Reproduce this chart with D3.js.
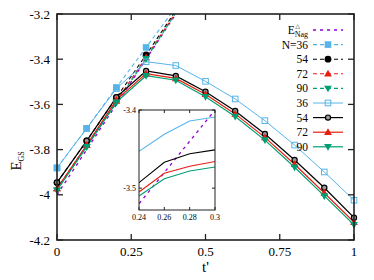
<!DOCTYPE html>
<html>
<head>
<meta charset="utf-8">
<script src="https://cdn.jsdelivr.net/npm/d3@7"></script>
<style>
  body { margin: 0; background: #fff; }
  svg text { font-family: "Liberation Serif", "DejaVu Serif", serif; fill: #000; }
</style>
</head>
<body>
<div id="chart"></div>
<script>
// t' values
var tDash = [0, 0.1, 0.2, 0.3, 0.4];
var tSolid = [0, 0.1, 0.2, 0.3, 0.4, 0.5, 0.6, 0.7, 0.8, 0.9, 1.0];
var tInset = [0.24, 0.26, 0.28, 0.30];

// E_Nag reference line
var eNag = [-4.0, -3.8, -3.6, -3.4, -3.2];

// dashed series (filled markers)
var dash36 = [-3.881, -3.706, -3.525, -3.348, -3.170];
var dash54 = [-3.946, -3.761, -3.570, -3.381, -3.185];
var dash72 = [-3.972, -3.780, -3.585, -3.392, -3.192];
var dash90 = [-3.980, -3.787, -3.592, -3.398, -3.195];

// solid series (open markers)
var solid36 = [-3.881, -3.706, -3.530, -3.411, -3.428, -3.498, -3.576, -3.672, -3.780, -3.899, -4.024];
var solid54 = [-3.946, -3.761, -3.568, -3.452, -3.474, -3.544, -3.629, -3.731, -3.846, -3.969, -4.101];
var solid72 = [-3.972, -3.780, -3.580, -3.464, -3.485, -3.555, -3.642, -3.746, -3.865, -3.992, -4.121];
var solid90 = [-3.980, -3.787, -3.590, -3.473, -3.493, -3.566, -3.654, -3.758, -3.878, -4.005, -4.133];

// inset series
var inset36 = [-3.453, -3.431, -3.414, -3.409];
var inset54 = [-3.493, -3.467, -3.456, -3.451];
var inset72 = [-3.505, -3.481, -3.472, -3.466];
var inset90 = [-3.510, -3.488, -3.478, -3.473];

// ticks
var xTicks = [0, 0.25, 0.5, 0.75, 1];
var xTickLabels = ["0", "0.25", "0.5", "0.75", "1"];
var yTicks = [-4.2, -4.0, -3.8, -3.6, -3.4, -3.2];
var yTickLabels = ["-4.2", "-4", "-3.8", "-3.6", "-3.4", "-3.2"];
var insetXTicks = [0.24, 0.26, 0.28, 0.30];
var insetXTickLabels = ["0.24", "0.26", "0.28", "0.3"];
var insetYTicks = [-3.5, -3.4];
var insetYTickLabels = ["-3.5", "-3.4"];

var legendLabels = ["N=36", "54", "72", "90", "36", "54", "72", "90"];

var purple = "#9400d3", blue = "#56b4e9", red = "#e51e10", green = "#009e73";

var width = 374, height = 280;
var margin = {left: 57, right: 20, top: 14, bottom: 40};

var svg = d3.select("#chart").append("svg")
    .attr("width", width)
    .attr("height", height);

var x = d3.scaleLinear().domain([0, 1]).range([margin.left, width - margin.right]);
var y = d3.scaleLinear().domain([-4.2, -3.2]).range([height - margin.bottom, margin.top]);

svg.append("clipPath").attr("id", "plotclip")
    .append("rect")
    .attr("x", x(0)).attr("y", y(-3.2))
    .attr("width", x(1) - x(0)).attr("height", y(-4.2) - y(-3.2));

// series definitions: values, t, colour, marker, dashed
var series = [
    {t: tDash, v: eNag, color: purple, marker: null, dash: "3,4", w: 1.3},
    {t: tDash, v: dash36, color: blue, marker: "square", dash: "4,3", w: 1.1},
    {t: tDash, v: dash54, color: "#000", marker: "circle", dash: "4,3", w: 1.1},
    {t: tDash, v: dash72, color: red, marker: "triangle", dash: "4,3", w: 1.1},
    {t: tDash, v: dash90, color: green, marker: "triangledown", dash: "4,3", w: 1.1},
    {t: tSolid, v: solid36, color: blue, marker: "opensquare", dash: null, w: 1.0},
    {t: tSolid, v: solid54, color: "#000", marker: "opencircle", dash: null, w: 1.2},
    {t: tSolid, v: solid72, color: red, marker: "triangle", dash: null, w: 1.2},
    {t: tSolid, v: solid90, color: green, marker: "triangledown", dash: null, w: 1.2}
];

// draw a marker at px, py
function marker(g, type, color, px, py) {
    switch(type) {
    case "square":
	g.append("rect").attr("x", px - 3.3).attr("y", py - 3.3)
	    .attr("width", 6.6).attr("height", 6.6).attr("fill", color);
	break;
    case "opensquare":
	g.append("rect").attr("x", px - 2.8).attr("y", py - 2.8)
	    .attr("width", 5.6).attr("height", 5.6)
	    .attr("fill", "none").attr("stroke", color).attr("stroke-width", 1);
	break;
    case "circle":
	g.append("circle").attr("cx", px).attr("cy", py).attr("r", 3.4).attr("fill", color);
	break;
    case "opencircle":
	g.append("circle").attr("cx", px).attr("cy", py).attr("r", 2.6)
	    .attr("fill", "#999").attr("stroke", color).attr("stroke-width", 1.2);
	break;
    case "triangle":
	g.append("path")
	    .attr("d", d3.symbol().type(d3.symbolTriangle).size(26)())
	    .attr("transform", "translate(" + px + "," + (py + 0.5) + ")")
	    .attr("fill", color);
	break;
    case "triangledown":
	g.append("path")
	    .attr("d", d3.symbol().type(d3.symbolTriangle).size(26)())
	    .attr("transform", "translate(" + px + "," + (py - 0.5) + ") rotate(180)")
	    .attr("fill", color);
	break;
    }
}

var plot = svg.append("g");
var lines = plot.append("g").attr("clip-path", "url(#plotclip)");
var marks = plot.append("g");

series.forEach(function(s) {
    var pts = s.t.map(function(t, i) { return [t, s.v[i]]; });
    var line = d3.line().x(function(d) { return x(d[0]); }).y(function(d) { return y(d[1]); });
    lines.append("path")
	.attr("d", line(pts))
	.attr("fill", "none")
	.attr("stroke", s.color)
	.attr("stroke-width", s.w)
	.attr("stroke-dasharray", s.dash);
    if(s.marker) {
	pts.forEach(function(p) {
	    if(p[1] <= -3.2 && p[1] >= -4.2)
		marker(marks, s.marker, s.color, x(p[0]), y(p[1]));
	});
    }
});

// frame and ticks (inward, mirrored)
var axes = svg.append("g");
axes.append("rect")
    .attr("x", x(0)).attr("y", y(-3.2))
    .attr("width", x(1) - x(0)).attr("height", y(-4.2) - y(-3.2))
    .attr("fill", "none").attr("stroke", "#222").attr("stroke-width", 1.6);

var tl = 6;
xTicks.forEach(function(t, i) {
    axes.append("line").attr("x1", x(t)).attr("x2", x(t))
	.attr("y1", y(-4.2)).attr("y2", y(-4.2) - tl).attr("stroke", "#222").attr("stroke-width", 1.3);
    axes.append("line").attr("x1", x(t)).attr("x2", x(t))
	.attr("y1", y(-3.2)).attr("y2", y(-3.2) + tl).attr("stroke", "#222").attr("stroke-width", 1.3);
    axes.append("text").attr("x", x(t)).attr("y", y(-4.2) + 16)
	.attr("text-anchor", "middle").attr("font-size", 13)
	.text(xTickLabels[i]);
});
yTicks.forEach(function(v, i) {
    axes.append("line").attr("x1", x(0)).attr("x2", x(0) + tl)
	.attr("y1", y(v)).attr("y2", y(v)).attr("stroke", "#222").attr("stroke-width", 1.3);
    axes.append("line").attr("x1", x(1)).attr("x2", x(1) - tl)
	.attr("y1", y(v)).attr("y2", y(v)).attr("stroke", "#222").attr("stroke-width", 1.3);
    axes.append("text").attr("x", x(0) - 7).attr("y", y(v) + 4.5)
	.attr("text-anchor", "end").attr("font-size", 13)
	.text(yTickLabels[i]);
});

// axis titles
var xt = svg.append("text").attr("x", x(0.5)).attr("y", 272)
    .attr("text-anchor", "middle").attr("font-size", 15);
xt.text("t'");

var yt = svg.append("text")
    .attr("transform", "translate(21," + y(-3.85) + ") rotate(-90)")
    .attr("text-anchor", "middle").attr("font-size", 15);
yt.append("tspan").text("E");
yt.append("tspan").attr("dy", 3).attr("font-size", 8).text("GS");

// legend
var legend = svg.append("g");
var lx = 308, ly0 = 30, dy = 14.6;
var eText = legend.append("text").attr("x", lx).attr("y", ly0 + 4)
    .attr("text-anchor", "end").attr("font-size", 11.5);
eText.append("tspan").text("E");
eText.append("tspan").attr("dy", 3).attr("font-size", 8).text("Nag");
var eW = eText.node().getSubStringLength(0, 1);
var bb = eText.node().getBBox();
legend.append("text").attr("x", bb.x + eW + 0.5).attr("y", ly0 - 2.5)
    .attr("font-size", 6).attr("font-family", "DejaVu Sans")
    .text("\u25B3");

series.forEach(function(s, i) {
    var ly = ly0 + i * dy;
    if(i > 0)
	legend.append("text").attr("x", lx).attr("y", ly + 4)
	    .attr("text-anchor", "end").attr("font-size", 11.5)
	    .text(legendLabels[i - 1]);
    legend.append("line").attr("x1", 313).attr("x2", 343)
	.attr("y1", ly).attr("y2", ly)
	.attr("stroke", s.color).attr("stroke-width", s.w)
	.attr("stroke-dasharray", s.dash);
    if(s.marker) marker(legend, s.marker, s.color, 328, ly);
});

// inset
var ix = d3.scaleLinear().domain([0.24, 0.30]).range([139, 215]);
var iy = d3.scaleLinear().domain([-3.528, -3.4]).range([210, 110]);
var inset = svg.append("g");
inset.append("rect").attr("x", 139).attr("y", 110)
    .attr("width", 76).attr("height", 100).attr("fill", "#fff");
svg.append("clipPath").attr("id", "insetclip")
    .append("rect").attr("x", 139).attr("y", 110).attr("width", 76).attr("height", 100);

var ig = inset.append("g").attr("clip-path", "url(#insetclip)");
var iline = d3.line().x(function(d) { return ix(d[0]); }).y(function(d) { return iy(d[1]); });
ig.append("path")
    .attr("d", iline(tDash.map(function(t, i) { return [t, eNag[i]]; })))
    .attr("fill", "none").attr("stroke", purple).attr("stroke-width", 1.3)
    .attr("stroke-dasharray", "3,4");
[[inset36, blue], [inset54, "#000"], [inset72, red], [inset90, green]].forEach(function(d) {
    ig.append("path")
	.attr("d", iline(tInset.map(function(t, i) { return [t, d[0][i]]; })))
	.attr("fill", "none").attr("stroke", d[1]).attr("stroke-width", 1.1);
});

inset.append("rect").attr("x", 139).attr("y", 110)
    .attr("width", 76).attr("height", 100)
    .attr("fill", "none").attr("stroke", "#222").attr("stroke-width", 1);
insetXTicks.forEach(function(t, i) {
    inset.append("line").attr("x1", ix(t)).attr("x2", ix(t))
	.attr("y1", 210).attr("y2", 207).attr("stroke", "#222");
    inset.append("line").attr("x1", ix(t)).attr("x2", ix(t))
	.attr("y1", 110).attr("y2", 113).attr("stroke", "#222");
    inset.append("text").attr("x", ix(t)).attr("y", 220)
	.attr("text-anchor", "middle").attr("font-size", 8)
	.text(insetXTickLabels[i]);
});
insetYTicks.forEach(function(v, i) {
    inset.append("line").attr("x1", 139).attr("x2", 142)
	.attr("y1", iy(v)).attr("y2", iy(v)).attr("stroke", "#222");
    inset.append("line").attr("x1", 215).attr("x2", 212)
	.attr("y1", iy(v)).attr("y2", iy(v)).attr("stroke", "#222");
    inset.append("text").attr("x", 136).attr("y", iy(v) + 3)
	.attr("text-anchor", "end").attr("font-size", 8)
	.text(insetYTickLabels[i]);
});
</script>
</body>
</html>
